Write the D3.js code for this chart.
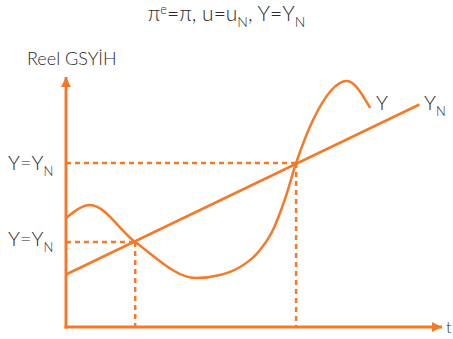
<!DOCTYPE html>
<html>
<head>
<meta charset="utf-8">
<script src="https://cdn.jsdelivr.net/npm/d3@7"></script>
<style>
  body { margin: 0; background: #fff; }
  svg { display: block; font-family: Lato, "Open Sans", sans-serif; }
  text { fill: #2a2a2a; font-weight: 300; }
</style>
</head>
<body>
<div id="chart"></div>
<script>
(function(){
// actual output Y over time (t, value)
const curveT = [0, 6.4, 18.4, 34.6, 41.0, 46.3, 50.8, 55.1, 58.2, 61.2, 65.7, 74.7, 80.9];
const curveY = [43.6, 48.8, 34, 19.6, 20.8, 24.0, 29.4, 39.0, 51.0, 65.6, 82.8, 98.4, 87.6];

// potential output Y_N trend line
const trendT = [0, 94];
const trendY = [21, 89];

// points where Y = Y_N
const eqT = [18.4, 61.2];
const eqY = [34, 65.6];

const orange = "#f47a2a";
const width = 453, height = 339;

const svg = d3.select("#chart")
    .append("svg")
    .attr("width", width)
    .attr("height", height);

// Scales
const x = d3.scaleLinear().domain([0, 100]).range([66, 442]);
const y = d3.scaleLinear().domain([0, 100]).range([327, 77]);

// Arrow head
svg.append("defs").append("marker")
    .attr("id", "arrow")
    .attr("viewBox", "0 0 10 10")
    .attr("refX", 10)
    .attr("refY", 5)
    .attr("markerUnits", "userSpaceOnUse")
    .attr("markerWidth", 11)
    .attr("markerHeight", 10)
    .attr("orient", "auto")
    .append("path")
    .attr("d", "M0,0 L10,5 L0,10 Z")
    .attr("fill", orange);

// Axes (no ticks, just the lines)
svg.append("line")
    .attr("x1", x(0) - 1.5).attr("y1", y(0))
    .attr("x2", x(100)).attr("y2", y(0))
    .attr("stroke", orange).attr("stroke-width", 3)
    .attr("marker-end", "url(#arrow)");

svg.append("line")
    .attr("x1", x(0)).attr("y1", y(0) + 1.5)
    .attr("x2", x(0)).attr("y2", y(100))
    .attr("stroke", orange).attr("stroke-width", 3)
    .attr("marker-end", "url(#arrow)");

// Dashed guides
eqT.forEach((t, i) => {
    svg.append("line")
        .attr("x1", x(0)).attr("y1", y(eqY[i]))
        .attr("x2", x(t)).attr("y2", y(eqY[i]))
        .attr("stroke", orange).attr("stroke-width", 2.5)
        .attr("stroke-dasharray", "5,4");
    svg.append("line")
        .attr("x1", x(t)).attr("y1", y(eqY[i]))
        .attr("x2", x(t)).attr("y2", y(0))
        .attr("stroke", orange).attr("stroke-width", 2.5)
        .attr("stroke-dasharray", "5,4");
});

// Y_N line
const line = d3.line().x(d => x(d[0])).y(d => y(d[1]));
svg.append("path")
    .datum(d3.zip(trendT, trendY))
    .attr("d", line)
    .attr("fill", "none")
    .attr("stroke", orange)
    .attr("stroke-width", 2.5);

// Y curve
svg.append("path")
    .datum(d3.zip(curveT, curveY))
    .attr("d", line.curve(d3.curveMonotoneX))
    .attr("fill", "none")
    .attr("stroke", orange)
    .attr("stroke-width", 2.5);

// Labels with subscript N
function labelYN(sel, px, py, size, prefix) {
    const t = sel.append("text")
        .attr("x", px).attr("y", py)
        .style("font-size", size + "px");
    t.append("tspan").text(prefix);
    t.append("tspan").attr("dy", size * 0.3).style("font-size", (size * 0.65) + "px").text("N");
    return t;
}

labelYN(svg, 8, y(eqY[1]) + 7, 20, "Y=Y");
labelYN(svg, 8, y(eqY[0]) + 4, 20, "Y=Y");

svg.append("text")
    .attr("x", 376).attr("y", 110)
    .style("font-size", "20px")
    .text("Y");
labelYN(svg, 424, 110, 20, "Y");

// Title
const title = svg.append("text")
    .attr("x", width / 2).attr("y", 21)
    .attr("text-anchor", "middle")
    .style("font-size", "21px");
title.append("tspan").text("\u03c0");
title.append("tspan").attr("dy", -7).style("font-size", "13px").text("e");
title.append("tspan").attr("dy", 7).text("=\u03c0, u=u");
title.append("tspan").attr("dy", 6).style("font-size", "14px").text("N");
title.append("tspan").attr("dy", -6).text(", Y=Y");
title.append("tspan").attr("dy", 6).style("font-size", "14px").text("N");

// Axis titles
svg.append("text")
    .attr("x", 27).attr("y", 65)
    .style("font-size", "18px")
    .text("Reel GSYİH");

svg.append("text")
    .attr("x", 446).attr("y", 333)
    .style("font-size", "16px")
    .text("t");
})();
</script>
</body>
</html>
